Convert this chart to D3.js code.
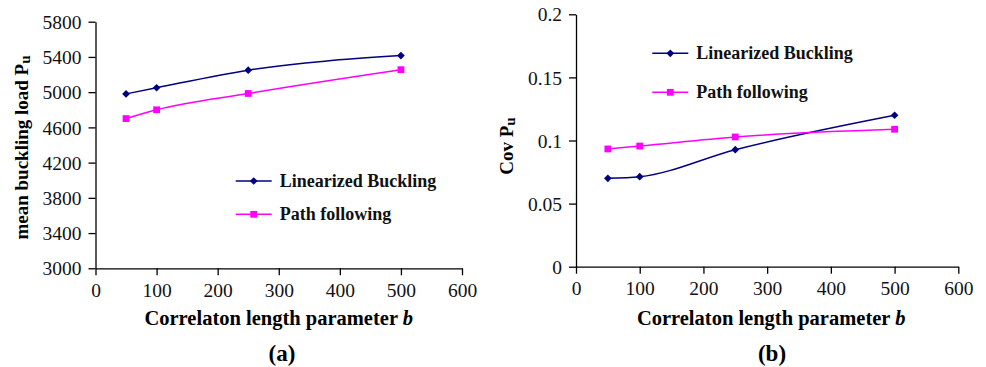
<!DOCTYPE html>
<html>
<head>
<meta charset="utf-8">
<script src="https://cdn.jsdelivr.net/npm/d3@7"></script>
<style>
  body { margin: 0; background: #fff; }
</style>
</head>
<body>
<svg id="chart" width="986" height="367"></svg>
<script>
// data
var lengthParam = [50, 100, 250, 500];
var meanLinear  = [4980, 5050, 5250, 5415];
var meanPath    = [4700, 4800, 4985, 5255];
var covLinear   = [0.070, 0.0713, 0.0927, 0.120];
var covPath     = [0.0933, 0.0956, 0.1028, 0.1089];
var xTicks      = [0, 100, 200, 300, 400, 500, 600];
var meanTicks   = [3000, 3400, 3800, 4200, 4600, 5000, 5400, 5800];
var covTicks    = [0, 0.05, 0.1, 0.15, 0.2];
var seriesNames = ["Linearized Buckling", "Path following"];

var navy = "#000080", magenta = "#ff00ff";
var FONT = "Liberation Serif";
var svg = d3.select("#chart");

function drawPanel(p) {
    var X = d3.scaleLinear().domain([0, 600]).range([p.x0, p.x1]);
    var Y = d3.scaleLinear().domain(p.ydomain).range([p.y0, p.y1]);

    // x axis
    var ax = svg.append("g")
        .attr("transform", "translate(0," + p.y0 + ")")
        .call(d3.axisBottom(X).tickValues(xTicks).tickSize(7).tickSizeOuter(0).tickPadding(6));
    // y axis
    var ay = svg.append("g")
        .attr("transform", "translate(" + p.x0 + ",0)")
        .call(d3.axisLeft(Y).tickValues(p.yticks).tickSize(7).tickSizeOuter(0).tickPadding(7)
              .tickFormat(p.fmt));
    [ax, ay].forEach(function(a){
        a.attr("font-family", null).attr("font-size", null);
        a.selectAll("path, line").attr("stroke", "#000").attr("stroke-width", 1.3);
        a.selectAll("text").attr("fill", "#111")
         .style("font-family", FONT).style("font-size", "19.5px");
    });
    ay.selectAll("text").attr("dy", "0.34em");
    ax.selectAll("text").attr("dy", "0.78em");

    // x title
    var xt = svg.append("text")
        .attr("x", (p.x0 + p.x1) / 2 + p.xtdx).attr("y", 325)
        .attr("text-anchor", "middle")
        .style("font-family", FONT)
        .style("font-size", "20.5px").style("font-weight", "bold");
    xt.append("tspan").text("Correlaton length parameter ");
    xt.append("tspan").style("font-style", "italic").text("b");

    // y title, with subscript u
    var yt = svg.append("text")
        .attr("transform", "translate(" + p.ytx + "," + p.yty + ") rotate(-90)")
        .attr("text-anchor", "middle")
        .style("font-family", FONT)
        .style("font-size", "19px").style("font-weight", "bold");
    yt.append("tspan").text(p.ytitle);
    yt.append("tspan").attr("dy", 2).style("font-size", "15px").text("u");

    // panel label
    svg.append("text")
        .attr("x", p.labx).attr("y", 361)
        .attr("text-anchor", "middle")
        .style("font-family", FONT)
        .style("font-size", "23px").style("font-weight", "bold")
        .text(p.label);

    var line = d3.line()
        .x(function(d, i){ return X(lengthParam[i]); })
        .y(function(d){ return Y(d); })
        .curve(d3.curveMonotoneX);

    var series = [
        {vals: p.s1, color: navy, shape: d3.symbolDiamond2, size: 38},
        {vals: p.s2, color: magenta, shape: d3.symbolSquare, size: 46}
    ];

    series.forEach(function(s){
        svg.append("path")
            .datum(s.vals)
            .attr("d", line)
            .attr("fill", "none")
            .attr("stroke", s.color)
            .attr("stroke-width", 1.5);
        svg.selectAll(null)
            .data(s.vals)
            .enter().append("path")
            .attr("d", d3.symbol().type(s.shape).size(s.size))
            .attr("transform", function(d, i){ return "translate(" + X(lengthParam[i]) + "," + Y(d) + ")"; })
            .attr("fill", s.color);
    });

    // legend
    series.forEach(function(s, i){
        var ly = p.legY[i];
        svg.append("line")
            .attr("x1", p.legX).attr("x2", p.legX + 36)
            .attr("y1", ly).attr("y2", ly)
            .attr("stroke", s.color).attr("stroke-width", 1.5);
        svg.append("path")
            .attr("d", d3.symbol().type(s.shape).size(s.size))
            .attr("transform", "translate(" + (p.legX + 18) + "," + ly + ")")
            .attr("fill", s.color);
        svg.append("text")
            .attr("x", p.legX + 44).attr("y", ly)
            .attr("dy", "0.33em")
            .style("font-family", FONT)
            .style("font-size", "18px").style("font-weight", "bold")
            .attr("fill", "#111")
            .text(seriesNames[i]);
    });
}

drawPanel({
    x0: 95.5, x1: 462, y0: 268.3, y1: 21.7,
    ydomain: [3000, 5800], yticks: meanTicks, fmt: d3.format("d"),
    s1: meanLinear, s2: meanPath,
    ytitle: "mean buckling load P", ytx: 28, yty: 147.5,
    label: "(a)", labx: 282, xtdx: 0,
    legX: 235.7, legY: [181, 214.3]
});

drawPanel({
    x0: 576, x1: 958.3, y0: 266.7, y1: 14.3,
    ydomain: [0, 0.2], yticks: covTicks, fmt: function(d){ return String(+d.toFixed(2)); },
    s1: covLinear, s2: covPath,
    ytitle: "Cov P", ytx: 513, yty: 146,
    label: "(b)", labx: 772, xtdx: 4,
    legX: 652.3, legY: [53.3, 92.3]
});
</script>
</body>
</html>
